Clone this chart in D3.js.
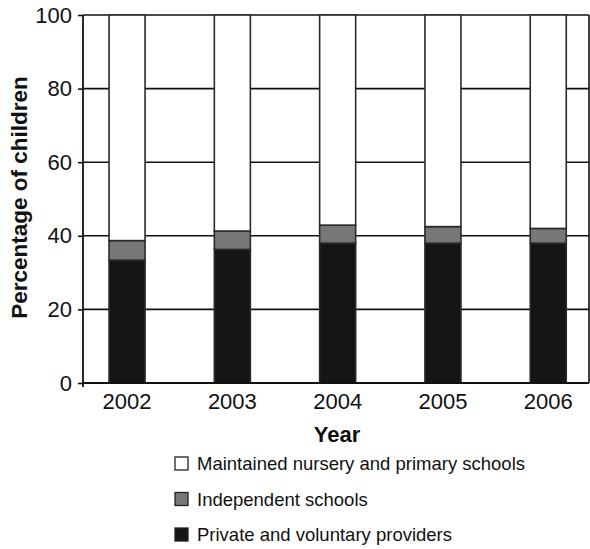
<!DOCTYPE html>
<html>
<head>
<meta charset="utf-8">
<script src="https://cdn.jsdelivr.net/npm/d3@7"></script>
<style>
  html, body { margin: 0; padding: 0; background: #fff; }
  svg { display: block; font-family: "Liberation Sans", Arial, Helvetica, sans-serif; }
</style>
</head>
<body>
<svg id="chart" width="590" height="549"></svg>
<script>
// Share of children by type of provider, per year (percent)
const years = ["2002", "2003", "2004", "2005", "2006"];
const privateVoluntary = [33.4, 36.3, 38.0, 38.0, 38.0];
const independent = [5.3, 5.0, 4.9, 4.5, 4.0];
const maintained = [61.3, 58.7, 57.1, 57.5, 58.0];
const yTicks = [0, 20, 40, 60, 80, 100];

const seriesNames = [
  "Private and voluntary providers",
  "Independent schools",
  "Maintained nursery and primary schools"
];
const seriesColors = ["#151515", "#777777", "#ffffff"];

const rows = years.map((yr, i) => ({
  year: yr,
  p: privateVoluntary[i],
  ind: independent[i],
  m: maintained[i]
}));

const svg = d3.select("#chart");
const plotLeft = 83, plotRight = 589, plotTop = 15, plotBottom = 383;

const y = d3.scaleLinear().domain([0, 100]).range([plotBottom, plotTop]);
const x = d3.scaleBand()
  .domain(years)
  .range([74.4, 600.9])
  .paddingInner(0.658)
  .paddingOuter(0.329);

// gridlines and frame
const grid = svg.append("g");
grid.selectAll("line.grid")
  .data(yTicks.filter(t => t > 0))
  .join("line")
  .attr("class", "grid")
  .attr("x1", plotLeft).attr("x2", plotRight)
  .attr("y1", d => y(d)).attr("y2", d => y(d))
  .attr("stroke", "#111").attr("stroke-width", 1.6);
grid.append("line")
  .attr("x1", plotRight).attr("x2", plotRight)
  .attr("y1", plotTop).attr("y2", plotBottom)
  .attr("stroke", "#111").attr("stroke-width", 1.6);

// stacked bars
const stack = d3.stack().keys(["p", "ind", "m"])(rows);
svg.append("g")
  .selectAll("g")
  .data(stack)
  .join("g")
  .attr("fill", (d, i) => seriesColors[i])
  .selectAll("rect")
  .data(d => d)
  .join("rect")
  .attr("x", d => x(d.data.year))
  .attr("width", x.bandwidth())
  .attr("y", d => y(d[1]))
  .attr("height", d => y(d[0]) - y(d[1]))
  .attr("stroke", "#2a2a2a")
  .attr("stroke-width", 1.6);

// y axis
const yAxis = svg.append("g")
  .attr("transform", `translate(${plotLeft},0)`)
  .call(d3.axisLeft(y).tickValues(yTicks).tickSize(5).tickPadding(6).tickSizeOuter(0));
yAxis.select(".domain").remove();
yAxis.selectAll(".tick line").attr("stroke", "#111").attr("stroke-width", 1.6);
yAxis.selectAll(".tick text")
  .attr("font-size", 22).attr("fill", "#111")
  .attr("font-family", "Liberation Sans, Arial, sans-serif");
svg.append("line")
  .attr("x1", plotLeft).attr("x2", plotLeft)
  .attr("y1", plotTop).attr("y2", plotBottom + 4)
  .attr("stroke", "#111").attr("stroke-width", 1.8);

// x axis
const xAxis = svg.append("g")
  .attr("transform", `translate(0,${plotBottom})`)
  .call(d3.axisBottom(x).tickSize(0).tickPadding(10));
xAxis.select(".domain").remove();
xAxis.selectAll(".tick text")
  .attr("font-size", 22).attr("fill", "#111")
  .attr("font-family", "Liberation Sans, Arial, sans-serif");
svg.append("line")
  .attr("x1", plotLeft).attr("x2", plotRight)
  .attr("y1", plotBottom).attr("y2", plotBottom)
  .attr("stroke", "#111").attr("stroke-width", 1.8);

// axis titles
svg.append("text")
  .attr("x", (plotLeft + plotRight) / 2 + 1).attr("y", 442)
  .attr("text-anchor", "middle")
  .attr("font-size", 22).attr("font-weight", "bold").attr("fill", "#111")
  .text("Year");
svg.append("text")
  .attr("transform", `translate(27,197.5) rotate(-90)`)
  .attr("text-anchor", "middle")
  .attr("font-size", 22.5).attr("font-weight", "bold").attr("fill", "#111")
  .text("Percentage of children");

// legend (top entry is the top segment)
const legendOrder = [2, 1, 0];
const leg = svg.append("g")
  .selectAll("g")
  .data(legendOrder)
  .join("g")
  .attr("transform", (d, i) => `translate(175,${457 + i * 35.5})`);
leg.append("rect")
  .attr("width", 13).attr("height", 13)
  .attr("fill", d => seriesColors[d])
  .attr("stroke", "#222").attr("stroke-width", 1.3);
leg.append("text")
  .attr("x", 22).attr("y", 13)
  .attr("font-size", 18.5).attr("fill", "#111")
  .text(d => seriesNames[d]);
</script>
</body>
</html>
